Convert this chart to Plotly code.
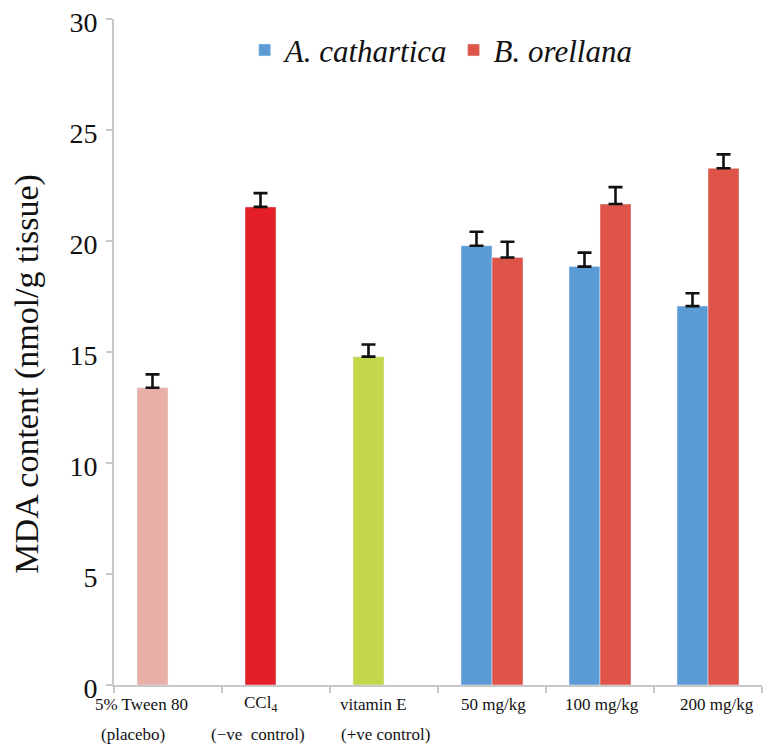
import plotly.graph_objects as go

# ---- data ----
categories = ["5% Tween 80", "CCl4", "vitamin E", "50 mg/kg", "100 mg/kg", "200 mg/kg"]
label_line1 = ["5% Tween 80", "CCl<sub>4</sub>", "vitamin E", "50 mg/kg", "100 mg/kg", "200 mg/kg"]
label_line2 = ["(placebo)", "(\u2212ve  control)", "(+ve control)", "", "", ""]

control_cats = categories[:3]
control_values = [13.4, 21.55, 14.8]
control_err = [0.6, 0.62, 0.55]

dose_cats = categories[3:]
a_cathartica = [19.8, 18.86, 17.08]
a_cathartica_err = [0.63, 0.63, 0.58]
b_orellana = [19.27, 21.68, 23.29]
b_orellana_err = [0.71, 0.76, 0.63]

y_ticks = [0, 5, 10, 15, 20, 25, 30]
y_title = "MDA content (nmol/g tissue)"

# ---- styles ----
control_colors = ["#E8AFA7", "#E41E26", "#C4D74B"]
blue = "#5B9BD5"
red = "#DF5448"
serif = "Liberation Serif"

err_style = dict(type="data", symmetric=False, color="#111111", thickness=2.6, width=7)

fig = go.Figure()
fig.add_trace(go.Bar(
    x=control_cats, y=control_values, marker_color=control_colors,
    offsetgroup="A", showlegend=False,
    error_y=dict(array=control_err, arrayminus=[0] * len(control_err), **err_style),
))
fig.add_trace(go.Bar(
    x=dose_cats, y=a_cathartica, name="A. cathartica", marker_color=blue,
    offsetgroup="A",
    error_y=dict(array=a_cathartica_err, arrayminus=[0] * 3, **err_style),
))
fig.add_trace(go.Bar(
    x=dose_cats, y=b_orellana, name="B. orellana", marker_color=red,
    offsetgroup="B",
    error_y=dict(array=b_orellana_err, arrayminus=[0] * 3, **err_style),
))

# x labels as annotations (two lines, wide spacing)
shift1 = [-27, -16, -11, 1, 2, 9]
shift2 = [-35, -18, 1, 0, 0, 0]
for c, t1, t2, s1, s2 in zip(categories, label_line1, label_line2, shift1, shift2):
    fig.add_annotation(x=c, y=0, xref="x", yref="paper", yanchor="middle",
                       yshift=-19, xshift=s1, text=t1, showarrow=False,
                       font=dict(family=serif, size=17, color="#111111"))
    if t2:
        fig.add_annotation(x=c, y=0, xref="x", yref="paper", yanchor="middle",
                           yshift=-49, xshift=s2, text=t2, showarrow=False,
                           font=dict(family=serif, size=17, color="#111111"))

# y-axis title
fig.add_annotation(x=0, y=0.466, xref="paper", yref="paper", xshift=-87,
                   xanchor="center", yanchor="middle", textangle=-90,
                   text=y_title, showarrow=False,
                   font=dict(family=serif, size=34, color="#111111"))

fig.update_layout(
    width=763, height=744,
    margin=dict(l=106, r=9, t=11, b=67),
    paper_bgcolor="white", plot_bgcolor="white",
    barmode="group", bargap=0.426, bargroupgap=0,
    showlegend=True,
    legend=dict(orientation="h", x=0.505, y=0.953, xanchor="center", yanchor="middle",
                font=dict(family=serif, size=31, color="#111111", style="italic"),
                bgcolor="rgba(0,0,0,0)", traceorder="normal", itemwidth=30),
    xaxis=dict(categoryorder="array", categoryarray=categories, range=[-0.5, 5.5],
               automargin=False,
               showticklabels=False, showline=True, linecolor="#C8C8C8", linewidth=2,
               ticks="outside", tickson="boundaries", ticklen=6, tickcolor="#C8C8C8",
               tickwidth=2, showgrid=False, zeroline=False),
    yaxis=dict(range=[0, 30.02], tickvals=y_ticks, showline=True, linecolor="#C8C8C8",
               automargin=False, ticklabeloverflow="allow", ticklabelshift=3,
               linewidth=2, ticks="outside", ticklen=6, tickcolor="#C8C8C8", tickwidth=2,
               showgrid=False, zeroline=False, ticklabelstandoff=3,
               tickfont=dict(family=serif, size=28, color="#111111")),
)

fig.write_html("out.html")
